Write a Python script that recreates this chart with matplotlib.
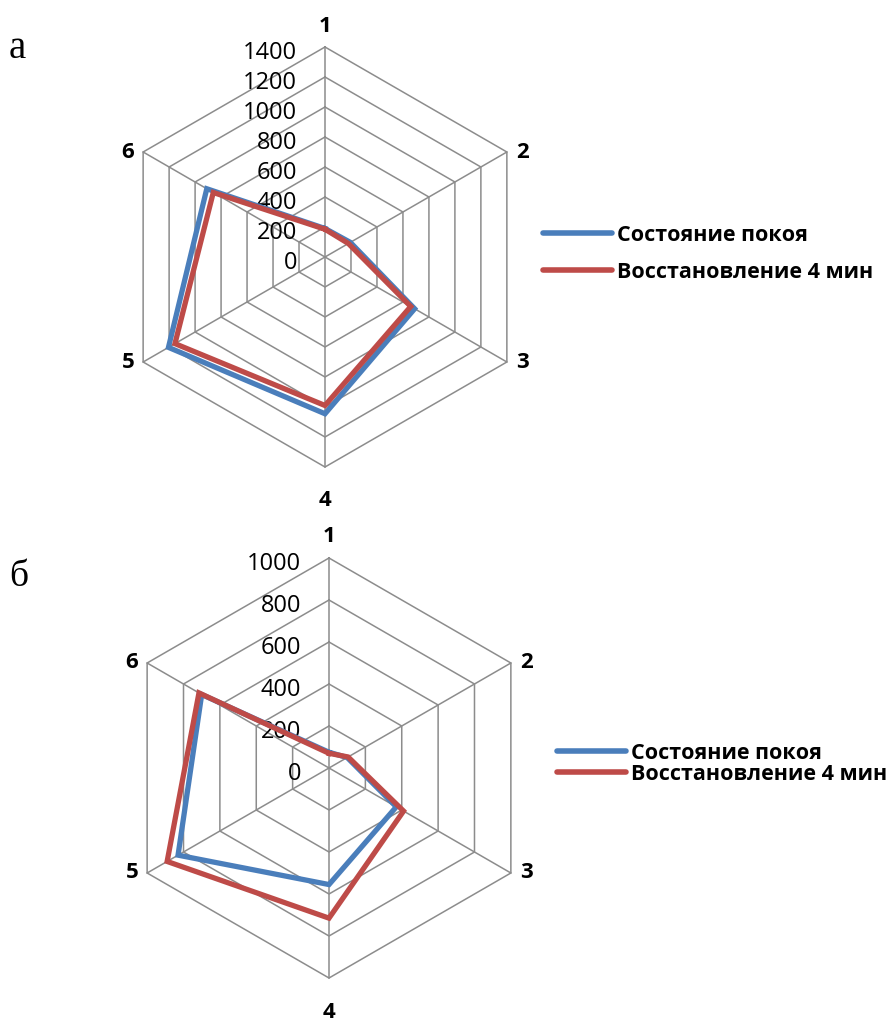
import numpy as np
import matplotlib
matplotlib.use("Agg")
import matplotlib.pyplot as plt

# axes 1..6, clockwise from the top
categories = ["1", "2", "3", "4", "5", "6"]
series_names = ["Состояние покоя", "Восстановление 4 мин"]

# panel а
rest_a = [190, 195, 690, 1045, 1205, 910]
recov_a = [185, 180, 660, 990, 1155, 860]
ticks_a = [0, 200, 400, 600, 800, 1000, 1200, 1400]

# panel б
rest_b = [75, 100, 370, 555, 830, 700]
recov_b = [70, 105, 410, 715, 890, 715]
ticks_b = [0, 200, 400, 600, 800, 1000]

W, H = 895, 1023
BLUE = "#4a7ebb"
RED = "#be4b48"
GRID = "#8c8c8c"
FONT = "Open Sans"


def xy(vals):
    ang = np.pi / 2 - np.arange(len(vals)) * 2 * np.pi / len(vals)
    v = np.asarray(vals, dtype=float)
    x = v * np.cos(ang)
    y = v * np.sin(ang)
    return np.append(x, x[0]), np.append(y, y[0])


def radar(fig, cx, cy, ticks, rest, recov, leg_x, leg_y, lspace):
    rmax = ticks[-1]
    rpx = 210.0
    s = rmax / rpx  # data units per pixel
    half = 240
    ax = fig.add_axes([(cx - half) / W, 1 - (cy + half) / H, 2 * half / W, 2 * half / H])
    ax.set_xlim(-half * s, half * s)
    ax.set_ylim(-half * s, half * s)
    ax.axis("off")

    # hexagonal grid
    for t in ticks[1:]:
        gx, gy = xy([t] * 6)
        ax.plot(gx, gy, color=GRID, lw=1.1, zorder=1)
    vx, vy = xy([rmax] * 6)
    for i in range(6):
        ax.plot([0, vx[i]], [0, vy[i]], color=GRID, lw=1.1, zorder=1)

    # tick labels
    for t in ticks:
        ax.text(-28 * s, t - 6 * s, str(t), ha="right", va="center",
                fontsize=17, family=FONT, color="black", zorder=3)

    # category labels
    offs = [(0, 21, "center"), (9, 0, "left"), (9, 0, "left"),
            (0, -34, "center"), (-9, 0, "right"), (-9, 0, "right")]
    for i, lab in enumerate(categories):
        dx, dy, ha = offs[i]
        ax.text(vx[i] + dx * s, vy[i] + dy * s, lab, ha=ha, va="center",
                fontsize=16, fontweight="bold", family=FONT)

    bx, by = xy(rest)
    rx, ry = xy(recov)
    ax.plot(bx, by, color=BLUE, lw=3.8, label=series_names[0], zorder=4,
            solid_joinstyle="miter")
    ax.plot(rx, ry, color=RED, lw=3.8, label=series_names[1], zorder=5,
            solid_joinstyle="miter")

    leg = ax.legend(loc="upper left", bbox_to_anchor=(leg_x / W, 1 - leg_y / H),
                    bbox_transform=fig.transFigure, frameon=False,
                    borderpad=0, borderaxespad=0, handlelength=3.2,
                    handletextpad=0.25, labelspacing=lspace,
                    prop={"family": FONT, "weight": "bold", "size": 15.5})
    for ln in leg.get_lines():
        ln.set_linewidth(4)
        ln.set_solid_capstyle("round")
    return ax


fig = plt.figure(figsize=(W / 100, H / 100), dpi=100)
fig.patch.set_facecolor("white")

radar(fig, 325, 257, ticks_a, rest_a, recov_a, 543, 225, 0.72)
radar(fig, 329, 768, ticks_b, rest_b, recov_b, 557, 743, 0.0)

fig.text(9 / W, 1 - 58 / H, "а", fontsize=28, family="Liberation Serif",
         ha="left", va="baseline")
fig.text(9 / W, 1 - 586 / H, "б", fontsize=27, family="Liberation Serif",
         ha="left", va="baseline")

fig.savefig("out.png", dpi=100)
